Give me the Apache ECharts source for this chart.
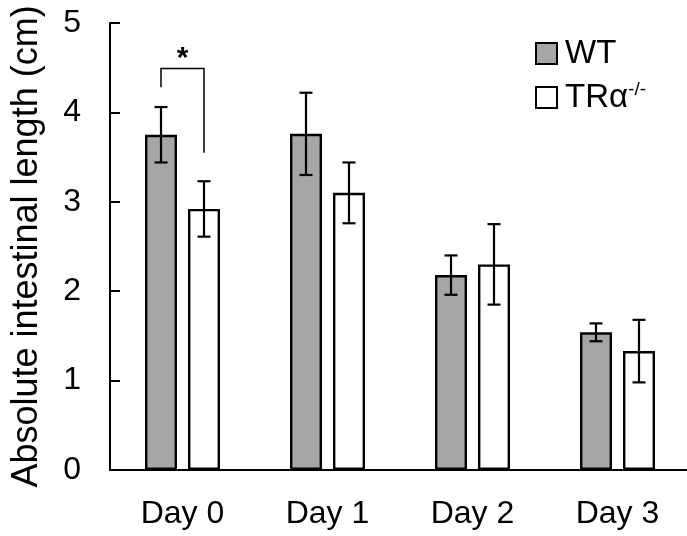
<!DOCTYPE html>
<html><head><meta charset="utf-8">
<script src="https://cdn.jsdelivr.net/npm/echarts@6/dist/echarts.min.js"></script>
<style>html,body{margin:0;padding:0;background:#fff}#c{width:687px;height:536px}</style>
</head><body><div id="c"></div>
<script>
const categories = ['Day 0', 'Day 1', 'Day 2', 'Day 3'];
const wtMean = [3.75, 3.76, 2.18, 1.54];
const wtErr = [0.31, 0.46, 0.22, 0.10];
const koMean = [2.92, 3.10, 2.30, 1.33];
const koErr = [0.31, 0.34, 0.45, 0.35];
const yTicks = [0, 1, 2, 3, 4, 5];
// significance bracket: [category, left leg bottom, right leg bottom, bracket top, label]
const sigBrackets = [[0, 4.28, 3.55, 4.49, '*']];

const FONT = 'Liberation Sans, Arial, sans-serif';
const BAR_W = 32, GAP = 11;
const OFF = (BAR_W + GAP) / 2;

function errItem(means, errs, dir) {
  return function (params, api) {
    const i = api.value(0);
    const m = means[i], e = errs[i];
    const top = api.coord([i, m + e]);
    const bot = api.coord([i, m - e]);
    const x = top[0] + dir * OFF;
    const cw = 6.5;
    const st = { stroke: '#000', lineWidth: 2.2 };
    return { type: 'group', children: [
      { type: 'line', shape: { x1: x, y1: top[1], x2: x, y2: bot[1] }, style: st },
      { type: 'line', shape: { x1: x - cw, y1: top[1], x2: x + cw, y2: top[1] }, style: st },
      { type: 'line', shape: { x1: x - cw, y1: bot[1], x2: x + cw, y2: bot[1] }, style: st }
    ]};
  };
}

const chart = echarts.init(document.getElementById('c'));
chart.setOption({
  animation: false,
  backgroundColor: '#fff',
  grid: { left: 110, top: 23, width: 580, height: 447, containLabel: false, outerBoundsMode: 'none' },
  legend: {
    orient: 'vertical', left: 530, top: 32, itemWidth: 21, itemHeight: 21, itemGap: 10,
    icon: 'rect',
    data: ['WT', 'TRα-/-'],
    formatter: function (n) { return n === 'WT' ? '{a|WT}' : '{a|TRα}{s|-/-}'; },
    textStyle: {
      rich: {
        a: { fontFamily: FONT, fontSize: 33, color: '#000', padding: [0, 0, 0, 3] },
        s: { fontFamily: FONT, fontSize: 19, color: '#000', verticalAlign: 'top', padding: [0, 0, 16, 0] }
      }
    }
  },
  xAxis: {
    type: 'category', data: categories,
    axisLine: { lineStyle: { color: '#000', width: 2 } },
    axisTick: { show: false },
    axisLabel: { fontFamily: FONT, fontSize: 32, color: '#000', margin: 28 }
  },
  yAxis: {
    type: 'value', min: 0, max: 5, interval: 1,
    name: 'Absolute intestinal length (cm)', nameLocation: 'middle', nameGap: 65,
    nameTextStyle: { fontFamily: FONT, fontSize: 36, color: '#000' },
    axisLine: { show: true, lineStyle: { color: '#000', width: 2 } },
    axisTick: { show: true, inside: true, length: 10, lineStyle: { color: '#000', width: 2 } },
    axisLabel: { fontFamily: FONT, fontSize: 32, color: '#000', margin: 29,
      formatter: v => yTicks.includes(v) ? String(v) : '' },
    splitLine: { show: false }
  },
  series: [
    { name: 'WT', type: 'bar', data: wtMean, barWidth: BAR_W, barGap: (GAP / BAR_W * 100) + '%',
      itemStyle: { color: '#a6a6a6', borderColor: '#000', borderWidth: 2.4 } },
    { name: 'TRα-/-', type: 'bar', data: koMean, barWidth: BAR_W,
      itemStyle: { color: '#fff', borderColor: '#000', borderWidth: 2.4 } },
    { type: 'custom', data: wtMean.map((v, i) => [i, v]), renderItem: errItem(wtMean, wtErr, -1), z: 5, silent: true },
    { type: 'custom', data: koMean.map((v, i) => [i, v]), renderItem: errItem(koMean, koErr, 1), z: 5, silent: true },
    { type: 'custom', data: sigBrackets.map(b => [b[0], b[3]]), z: 5, silent: true,
      renderItem: function (params, api) {
        const b = sigBrackets[params.dataIndex];
        const c = api.coord([b[0], b[3]]);
        const xl = c[0] - OFF, xr = c[0] + OFF;
        const yl = api.coord([b[0], b[1]])[1];
        const yr = api.coord([b[0], b[2]])[1];
        return { type: 'group', children: [
          { type: 'polyline', shape: { points: [[xl, yl], [xl, c[1]], [xr, c[1]], [xr, yr]] },
            style: { stroke: '#000', lineWidth: 1.5, fill: null } },
          { type: 'text', style: { text: b[4], x: c[0], y: c[1] + 5, align: 'center', verticalAlign: 'bottom',
            font: 'bold 30px ' + FONT, fill: '#000' } }
        ]};
      } }
  ]
});
</script></body></html>
